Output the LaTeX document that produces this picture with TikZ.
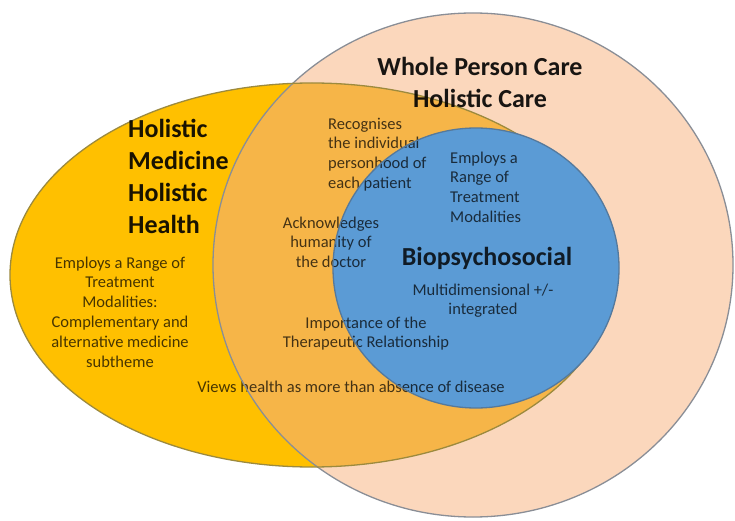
\documentclass[tikz,border=0pt]{standalone}
\usepackage{fontspec}
\setmainfont{Carlito}
\definecolor{peach}{HTML}{FBD7BC}
\definecolor{gold}{HTML}{FFC000}
\definecolor{goldpeach}{HTML}{F6B548}
\definecolor{skyblue}{HTML}{5B9BD5}
\definecolor{ringline}{HTML}{8A8E96}
\definecolor{goldline}{HTML}{9C8A3E}
\definecolor{blueline}{HTML}{55799C}
\begin{document}
\begin{tikzpicture}[x=1pt,y=-1pt,
  small/.style={font=\fontsize{16.5}{19.8}\selectfont, inner sep=0pt, text=black, text opacity=0.72},
  heading/.style={font=\bfseries\fontsize{26}{32}\selectfont, inner sep=0pt, text=black, text opacity=0.9},
  outline/.style={line width=1.3pt}
]
% canvas
\fill[white] (0,0) rectangle (735,521);
\useasboundingbox (0,0) rectangle (735,521);

% region fills
\fill[peach] (473,265) ellipse [x radius=260, y radius=252];
\fill[gold] (312,275) ellipse [x radius=302, y radius=192];
\begin{scope}
  \clip (473,265) ellipse [x radius=260, y radius=252];
  \fill[goldpeach] (312,275) ellipse [x radius=302, y radius=192];
\end{scope}
\fill[skyblue] (476,268) ellipse [x radius=143, y radius=140];

% theme texts
\node[small, anchor=north, align=center] (modalities) at (120,254.1)
  {\strut Employs a Range of\\Treatment\\Modalities:\\Complementary and\\alternative medicine\\subtheme};
\node[small, anchor=north west, align=left] (personhood) at (328,115.1)
  {\strut Recognises\\the individual\\personhood of\\each patient};
\node[small, anchor=north, align=center] (humanity) at (331,214.1)
  {\strut Acknowledges\\humanity of\\the doctor};
\node[small, anchor=north west, align=left] (range) at (450,149.1)
  {\strut Employs a\\Range of\\Treatment\\Modalities};
\node[small, anchor=north, align=center] (multi) at (483,281.1)
  {\strut Multidimensional +/-\\integrated};
\node[small, anchor=north, align=center] (relation) at (366,314.1)
  {\strut Importance of the\\Therapeutic Relationship};
\node[small, anchor=base] (views) at (351,392)
  {Views health as more than absence of disease};

% outlines of the two large shapes, kept outside the blue ellipse
\begin{scope}[even odd rule]
  \clip (0,0) rectangle (735,521)
    (476,268) ellipse [x radius=143, y radius=140];
  \draw[outline, ringline] (473,265) ellipse [x radius=260, y radius=252];
  \draw[outline, goldline] (312,275) ellipse [x radius=302, y radius=192];
\end{scope}
\draw[outline, blueline] (476,268) ellipse [x radius=143, y radius=140];

% headings
\node[heading, anchor=north west, align=left] (holistic) at (128,114.6)
  {\strut Holistic\\Medicine\\Holistic\\Health};
\node[heading, anchor=north, align=center] (whole) at (480,52.6)
  {\strut Whole Person Care\\Holistic Care};
\node[heading, anchor=base, text opacity=0.82] (bio) at (487,265) {Biopsychosocial};
\end{tikzpicture}
\end{document}
